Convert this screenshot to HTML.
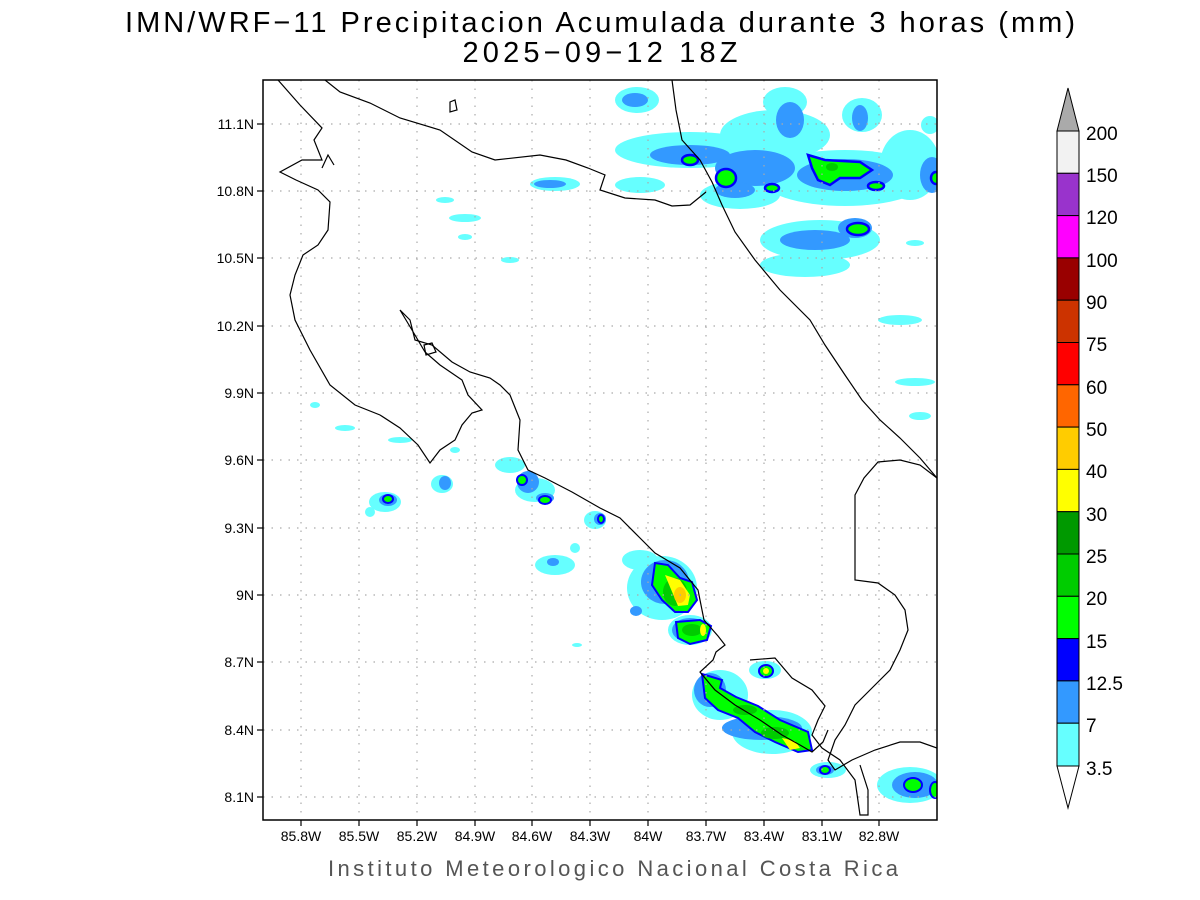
<!DOCTYPE html>
<html><head><meta charset="utf-8"><style>
html,body{margin:0;padding:0;background:#fff;width:1200px;height:900px;overflow:hidden}
svg{display:block}
text{font-family:"Liberation Sans",sans-serif}
</style></head><body>
<svg width="1200" height="900" viewBox="0 0 1200 900" xmlns="http://www.w3.org/2000/svg">
<text x="600" y="32" font-size="29" text-anchor="middle" fill="#000" textLength="950">IMN/WRF−11 Precipitacion Acumulada durante 3 horas (mm)</text>
<text x="600" y="62" font-size="29" text-anchor="middle" fill="#000" textLength="275">2025−09−12 18Z</text>

<defs><clipPath id="c"><rect x="263" y="80" width="674" height="740"/></clipPath></defs>
<g clip-path="url(#c)">
<!-- NE cluster -->
<g fill="#66ffff">
<ellipse cx="637" cy="100" rx="22" ry="13"/>
<ellipse cx="690" cy="150" rx="75" ry="18"/>
<ellipse cx="775" cy="135" rx="55" ry="25"/>
<ellipse cx="785" cy="102" rx="22" ry="15"/>
<ellipse cx="862" cy="115" rx="20" ry="17"/>
<ellipse cx="845" cy="178" rx="85" ry="28"/>
<ellipse cx="910" cy="165" rx="30" ry="35"/>
<ellipse cx="820" cy="240" rx="60" ry="20"/>
<ellipse cx="805" cy="265" rx="45" ry="12"/>
<ellipse cx="740" cy="195" rx="40" ry="14"/>
<ellipse cx="555" cy="184" rx="25" ry="7"/>
<ellipse cx="640" cy="185" rx="25" ry="8"/>
<ellipse cx="900" cy="320" rx="22" ry="5"/>
<ellipse cx="915" cy="382" rx="20" ry="4"/>
<ellipse cx="920" cy="416" rx="11" ry="4"/>
<ellipse cx="915" cy="243" rx="9" ry="3"/>
<ellipse cx="465" cy="218" rx="16" ry="4"/>
<ellipse cx="465" cy="237" rx="7" ry="3"/>
<ellipse cx="445" cy="200" rx="9" ry="3"/>
<ellipse cx="510" cy="260" rx="9" ry="3"/>
<ellipse cx="930" cy="125" rx="9" ry="9"/>
</g>
<g fill="#3399ff">
<ellipse cx="635" cy="100" rx="13" ry="7"/>
<ellipse cx="690" cy="155" rx="40" ry="10"/>
<ellipse cx="755" cy="168" rx="40" ry="18"/>
<ellipse cx="790" cy="120" rx="14" ry="18"/>
<ellipse cx="845" cy="175" rx="48" ry="16"/>
<ellipse cx="860" cy="118" rx="8" ry="13"/>
<ellipse cx="815" cy="240" rx="35" ry="10"/>
<ellipse cx="855" cy="228" rx="17" ry="10"/>
<ellipse cx="932" cy="175" rx="12" ry="18"/>
<ellipse cx="550" cy="184" rx="16" ry="4"/>
<ellipse cx="735" cy="190" rx="20" ry="8"/>
</g>
<g fill="#00ff00" stroke="#0000ff" stroke-width="2.5">
<ellipse cx="690" cy="160" rx="8" ry="5"/>
<ellipse cx="726" cy="178" rx="10" ry="9"/>
<ellipse cx="772" cy="188" rx="7" ry="4"/>
<path d="M808 155 L825 160 L860 162 L872 170 L860 178 L840 178 L830 185 L818 180 L812 168 Z"/>
<ellipse cx="876" cy="186" rx="8" ry="4"/>
<ellipse cx="858" cy="229" rx="11" ry="6"/>
<ellipse cx="936" cy="178" rx="5" ry="6"/>
</g>
<ellipse cx="832" cy="167" rx="6" ry="4" fill="#00cc00"/>

<!-- SW band -->
<g fill="#66ffff">
<ellipse cx="385" cy="502" rx="16" ry="10"/>
<ellipse cx="442" cy="484" rx="11" ry="9"/>
<ellipse cx="510" cy="465" rx="15" ry="8"/>
<ellipse cx="535" cy="490" rx="20" ry="12"/>
<ellipse cx="595" cy="520" rx="11" ry="9"/>
<ellipse cx="555" cy="565" rx="20" ry="10"/>
<ellipse cx="662" cy="588" rx="35" ry="32"/>
<ellipse cx="690" cy="630" rx="22" ry="15"/>
<ellipse cx="720" cy="695" rx="28" ry="25"/>
<ellipse cx="772" cy="732" rx="40" ry="22"/>
<ellipse cx="765" cy="670" rx="16" ry="9"/>
<ellipse cx="828" cy="770" rx="18" ry="8"/>
<ellipse cx="910" cy="785" rx="33" ry="18"/>
<ellipse cx="640" cy="560" rx="18" ry="10"/>
<ellipse cx="370" cy="512" rx="5" ry="5"/>
<ellipse cx="315" cy="405" rx="5" ry="3"/>
<ellipse cx="345" cy="428" rx="10" ry="3"/>
<ellipse cx="400" cy="440" rx="12" ry="3"/>
<ellipse cx="455" cy="450" rx="5" ry="3"/>
<ellipse cx="575" cy="548" rx="5" ry="5"/>
<ellipse cx="577" cy="645" rx="5" ry="2"/>
</g>
<g fill="#3399ff">
<ellipse cx="388" cy="500" rx="9" ry="6"/>
<ellipse cx="445" cy="483" rx="6" ry="7"/>
<ellipse cx="528" cy="482" rx="11" ry="11"/>
<ellipse cx="545" cy="498" rx="9" ry="5"/>
<ellipse cx="600" cy="519" rx="6" ry="6"/>
<ellipse cx="553" cy="562" rx="6" ry="4"/>
<ellipse cx="665" cy="582" rx="24" ry="22"/>
<ellipse cx="690" cy="630" rx="18" ry="12"/>
<ellipse cx="636" cy="611" rx="6" ry="5"/>
<ellipse cx="710" cy="690" rx="16" ry="17"/>
<ellipse cx="762" cy="728" rx="40" ry="12"/>
<ellipse cx="825" cy="770" rx="9" ry="5"/>
<ellipse cx="915" cy="785" rx="23" ry="13"/>
</g>
<g fill="#00ff00" stroke="#0000ff" stroke-width="2">
<path d="M655 563 L668 565 L680 578 L692 582 L697 600 L688 612 L675 612 L662 600 L652 585 Z"/>
<path d="M676 622 L700 620 L711 626 L707 640 L690 644 L678 638 Z"/>
<path d="M702 674 L722 680 L720 688 L736 697 L758 706 L780 720 L808 732 L812 750 L798 752 L775 742 L755 732 L738 718 L718 710 L705 698 Z"/>
<ellipse cx="766" cy="671" rx="7" ry="6"/>
<ellipse cx="522" cy="480" rx="5" ry="5"/>
<ellipse cx="545" cy="500" rx="6" ry="4"/>
<ellipse cx="601" cy="519" rx="3" ry="4"/>
<ellipse cx="388" cy="499" rx="5" ry="4"/>
<ellipse cx="825" cy="770" rx="5" ry="4"/>
<ellipse cx="913" cy="785" rx="9" ry="7"/>
<ellipse cx="935" cy="790" rx="5" ry="8"/>
</g>
<g fill="#00cc00">
<ellipse cx="675" cy="592" rx="12" ry="14"/>
<ellipse cx="692" cy="630" rx="10" ry="6"/>
<ellipse cx="745" cy="710" rx="12" ry="5"/>
<ellipse cx="775" cy="733" rx="14" ry="6"/>
</g>
<path d="M665 575 L680 580 L690 595 L688 605 L678 606 Z" fill="#ffff00"/>
<ellipse cx="680" cy="595" rx="6" ry="8" fill="#ffcc00"/>
<ellipse cx="703" cy="630" rx="3" ry="6" fill="#ffff00"/>
<ellipse cx="766" cy="671" rx="3" ry="3" fill="#ffff00"/>
<path d="M782 738 L795 741 L800 748 L790 750 Z" fill="#ffff00"/>

<!-- grid -->
<g stroke="#aaa" stroke-width="1.2" stroke-dasharray="1.5,7">
<line x1="301" y1="80" x2="301" y2="820"/><line x1="359" y1="80" x2="359" y2="820"/><line x1="417" y1="80" x2="417" y2="820"/><line x1="475" y1="80" x2="475" y2="820"/><line x1="532" y1="80" x2="532" y2="820"/><line x1="590" y1="80" x2="590" y2="820"/><line x1="648" y1="80" x2="648" y2="820"/><line x1="706" y1="80" x2="706" y2="820"/><line x1="764" y1="80" x2="764" y2="820"/><line x1="822" y1="80" x2="822" y2="820"/><line x1="879" y1="80" x2="879" y2="820"/>
<line x1="263" y1="124" x2="937" y2="124"/><line x1="263" y1="191" x2="937" y2="191"/><line x1="263" y1="258" x2="937" y2="258"/><line x1="263" y1="326" x2="937" y2="326"/><line x1="263" y1="393" x2="937" y2="393"/><line x1="263" y1="460" x2="937" y2="460"/><line x1="263" y1="528" x2="937" y2="528"/><line x1="263" y1="595" x2="937" y2="595"/><line x1="263" y1="662" x2="937" y2="662"/><line x1="263" y1="730" x2="937" y2="730"/><line x1="263" y1="797" x2="937" y2="797"/>
</g>

<!-- coastlines -->
<g fill="none" stroke="#000" stroke-width="1.2">
<path d="M278 80 L300 105 L322 128 L314 140 L322 160 L302 160 L280 172 L296 180 L318 190 L330 202 L328 230 L318 245 L303 255 L295 275 L290 295 L295 320 L310 350 L330 385 L355 405 L380 415 L400 428 L418 445 L430 463 L440 450 L455 440 L462 425 L472 413 L482 410 L468 395 L462 380 L440 365 L425 352 L412 330 L400 310 L410 320 L415 340 L432 345 L452 362 L470 372 L490 378 L500 385 L510 395 L520 420 L518 450 L528 470 L545 478 L572 492 L600 508 L620 518 L640 538 L655 553 L680 568 L698 590 L704 620 L718 636 L725 645 L716 652 L713 660 L700 672 L715 690 L735 705 L760 720 L782 735 L800 745 L812 752 L823 742 L828 730"/>
<path d="M424 345 L432 343 L436 352 L426 355 Z"/>
<path d="M450 102 L455 100 L457 110 L450 112 Z"/>
<path d="M325 80 L340 92 L370 103 L400 118 L440 130 L472 152 L495 160 L540 155 L566 160 L588 168 L605 175 L600 190 L625 198 L655 200 L672 206 L690 205 L706 192"/>
<path d="M672 80 L676 110 L682 140 L700 160 L712 182 L722 205 L735 232 L755 260 L780 290 L810 320 L825 345 L845 375 L862 400 L880 420 L900 438 L920 458 L937 478"/>
<path d="M937 478 L920 465 L900 460 L878 462 L864 478 L855 495 L855 580 L878 583 L895 595 L905 610 L908 630 L900 650 L890 670 L870 690 L855 705 L845 725 L835 740 L828 760 L835 770 L852 760 L875 750 L900 742 L920 742 L937 748"/>
<path d="M750 660 L775 658 L792 678 L812 690 L825 706 L818 720 L812 735 L822 748 L840 760 L855 780 L860 815 L868 815 L868 790 L860 765"/>
<path d="M322 168 L328 155 L334 165"/>
</g>
</g>

<rect x="263" y="80" width="674" height="740" fill="none" stroke="#000" stroke-width="1.5"/>
<g stroke="#000" stroke-width="1.2">
<line x1="301" y1="820" x2="301" y2="826"/><line x1="359" y1="820" x2="359" y2="826"/><line x1="417" y1="820" x2="417" y2="826"/><line x1="475" y1="820" x2="475" y2="826"/><line x1="532" y1="820" x2="532" y2="826"/><line x1="590" y1="820" x2="590" y2="826"/><line x1="648" y1="820" x2="648" y2="826"/><line x1="706" y1="820" x2="706" y2="826"/><line x1="764" y1="820" x2="764" y2="826"/><line x1="822" y1="820" x2="822" y2="826"/><line x1="879" y1="820" x2="879" y2="826"/>
<line x1="257" y1="124" x2="263" y2="124"/><line x1="257" y1="191" x2="263" y2="191"/><line x1="257" y1="258" x2="263" y2="258"/><line x1="257" y1="326" x2="263" y2="326"/><line x1="257" y1="393" x2="263" y2="393"/><line x1="257" y1="460" x2="263" y2="460"/><line x1="257" y1="528" x2="263" y2="528"/><line x1="257" y1="595" x2="263" y2="595"/><line x1="257" y1="662" x2="263" y2="662"/><line x1="257" y1="730" x2="263" y2="730"/><line x1="257" y1="797" x2="263" y2="797"/>
</g>
<g font-size="14" text-anchor="middle" fill="#000">
<text x="301" y="841">85.8W</text><text x="359" y="841">85.5W</text><text x="417" y="841">85.2W</text><text x="475" y="841">84.9W</text><text x="532" y="841">84.6W</text><text x="590" y="841">84.3W</text><text x="648" y="841">84W</text><text x="706" y="841">83.7W</text><text x="764" y="841">83.4W</text><text x="822" y="841">83.1W</text><text x="879" y="841">82.8W</text>
</g>
<g font-size="14" text-anchor="end" fill="#000">
<text x="254" y="129">11.1N</text><text x="254" y="196">10.8N</text><text x="254" y="263">10.5N</text><text x="254" y="331">10.2N</text><text x="254" y="398">9.9N</text><text x="254" y="465">9.6N</text><text x="254" y="533">9.3N</text><text x="254" y="600">9N</text><text x="254" y="667">8.7N</text><text x="254" y="735">8.4N</text><text x="254" y="802">8.1N</text>
</g>
<text x="613" y="876" font-size="22" text-anchor="middle" fill="#555" textLength="570">Instituto Meteorologico Nacional Costa Rica</text>

<g stroke="#000" stroke-width="1">
<path d="M1057 131 L1068 88 L1079 131 Z" fill="#aaaaaa"/>
<rect x="1057" y="131" width="22" height="42.3" fill="#f2f2f2"/>
<rect x="1057" y="173.3" width="22" height="42.3" fill="#9933cc"/>
<rect x="1057" y="215.6" width="22" height="42.3" fill="#ff00ff"/>
<rect x="1057" y="257.9" width="22" height="42.3" fill="#990000"/>
<rect x="1057" y="300.2" width="22" height="42.3" fill="#cc3300"/>
<rect x="1057" y="342.5" width="22" height="42.3" fill="#ff0000"/>
<rect x="1057" y="384.8" width="22" height="42.3" fill="#ff6600"/>
<rect x="1057" y="427.1" width="22" height="42.3" fill="#ffcc00"/>
<rect x="1057" y="469.4" width="22" height="42.3" fill="#ffff00"/>
<rect x="1057" y="511.7" width="22" height="42.3" fill="#009900"/>
<rect x="1057" y="554" width="22" height="42.3" fill="#00cc00"/>
<rect x="1057" y="596.3" width="22" height="42.3" fill="#00ff00"/>
<rect x="1057" y="638.6" width="22" height="42.3" fill="#0000ff"/>
<rect x="1057" y="680.9" width="22" height="42.3" fill="#3399ff"/>
<rect x="1057" y="723.2" width="22" height="42.8" fill="#66ffff"/>
<path d="M1057 766 L1068 808 L1079 766 Z" fill="#fff"/>
</g>
<g font-size="19" fill="#000">
<text x="1086" y="140">200</text><text x="1086" y="182">150</text><text x="1086" y="224">120</text><text x="1086" y="267">100</text><text x="1086" y="309">90</text><text x="1086" y="351">75</text><text x="1086" y="394">60</text><text x="1086" y="436">50</text><text x="1086" y="478">40</text><text x="1086" y="521">30</text><text x="1086" y="563">25</text><text x="1086" y="605">20</text><text x="1086" y="648">15</text><text x="1086" y="690">12.5</text><text x="1086" y="732">7</text><text x="1086" y="775">3.5</text>
</g>
</svg>
</body></html>
